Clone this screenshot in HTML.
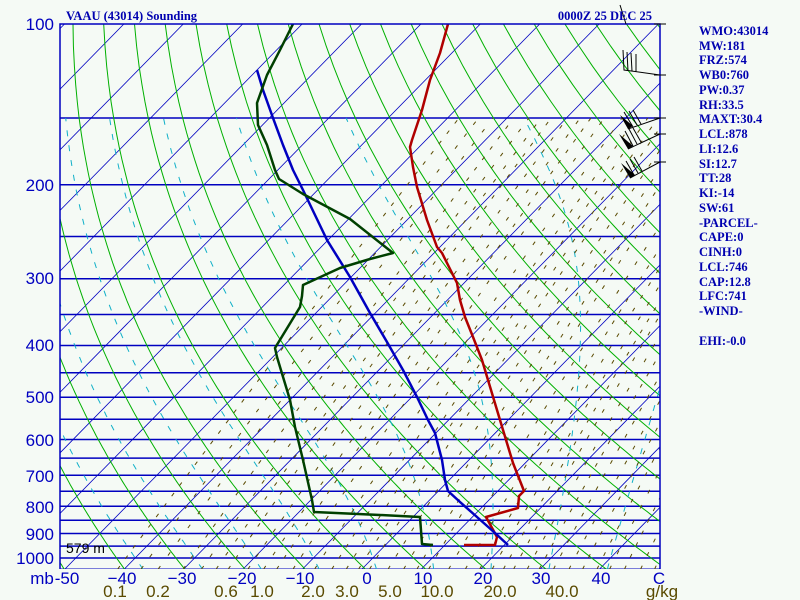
<!DOCTYPE html>
<html><head><meta charset="utf-8">
<style>
body{margin:0;background:#f5faf5;}
svg{display:block;}
.ax{font-family:"Liberation Sans",sans-serif;font-size:17px;fill:#0000c0;}
.br{font-family:"Liberation Sans",sans-serif;font-size:17px;fill:#5a4a00;}
.bt{font-family:"Liberation Serif",serif;font-size:12.5px;font-weight:bold;fill:#0000b0;}
</style></head><body>
<svg id="s" width="800" height="600" xmlns="http://www.w3.org/2000/svg">
<rect width="800" height="600" fill="#f5faf5"/>
<defs><clipPath id="c"><rect x="60" y="24" width="600" height="545"/></clipPath></defs>
<g id="grid" clip-path="url(#c)"></g>
<g clip-path="url(#c)" fill="none" stroke-width="2.5" stroke-linejoin="round">
<polyline stroke="#b00000" points="448,24 440,53 430,80 422,110 412,140 410,147 413,167 417,187 427,220 437,247 442,253 457,283 460,300 465,317 473,337 482,360 491,390 500,420 513,463 524,491 519,496 518,508 486,517 497,537 495,545 464,545"/>
<polyline stroke="#0000c0" points="257,70 263,90 273,118 283,145 293,170 303,190 327,240 350,277 370,313 387,342 403,370 417,397 428,420 435,433 442,460 445,480 448,491 460,502 477,517 495,533 508,545"/>
<polyline stroke="#004000" points="293,24 280,50 267,75 257,103 258,125 267,145 275,170 279,179 303,194 350,219 393,253 370,259 340,268 303,285 302,296 300,307 275,348 277,357 290,400 295,427 303,460 312,500 314,512 380,515 420,517 422,544 433,545"/>
</g>
<g fill="none" stroke="#0000c0" stroke-width="1.5">
<polyline points="60,569 60,24 660,24 660,569"/>
</g>
<g stroke="#000" stroke-width="1" fill="none">
<line x1="654" y1="24" x2="666" y2="24"/><line x1="620" y1="5" x2="626" y2="24"/>
<line x1="654" y1="75" x2="666" y2="75"/>
<polyline points="660,75 624,70 623,50"/><line x1="628" y1="71" x2="627" y2="52"/><line x1="632" y1="71" x2="631" y2="53"/><line x1="636" y1="72" x2="636" y2="54"/>
<line x1="654" y1="118" x2="666" y2="118"/>
<line x1="660" y1="118" x2="628" y2="129"/><line x1="633" y1="127" x2="624" y2="112"/><line x1="637" y1="125" x2="629" y2="111"/><line x1="641" y1="124" x2="633" y2="110"/>
<line x1="654" y1="134" x2="666" y2="134"/>
<line x1="660" y1="134" x2="628" y2="149"/><line x1="633" y1="146" x2="625" y2="131"/><line x1="637" y1="144" x2="629" y2="129"/><line x1="641" y1="142" x2="633" y2="128"/>
<line x1="654" y1="162" x2="666" y2="162"/>
<line x1="660" y1="162" x2="630" y2="178"/><line x1="634" y1="175" x2="626" y2="161"/><line x1="638" y1="173" x2="630" y2="159"/><line x1="642" y1="171" x2="634" y2="157"/>
</g>
<g fill="#000">
<polygon points="628,129 620,115 633,126"/><polygon points="628,149 619,134 633,146"/><polygon points="630,178 621,163 635,175"/>
</g>
<text x="66" y="20" class="bt">VAAU (43014) Sounding</text>
<text x="652" y="20" class="bt" text-anchor="end">0000Z 25 DEC 25</text>
<g class="ax" text-anchor="end">
<text x="54" y="30">100</text><text x="54" y="191">200</text><text x="54" y="284">300</text><text x="54" y="351">400</text><text x="54" y="403">500</text><text x="54" y="446">600</text><text x="54" y="482">700</text><text x="54" y="513">800</text><text x="54" y="540">900</text><text x="54" y="564">1000</text>
</g>
<text x="66" y="553" font-family="Liberation Sans,sans-serif" font-size="14" fill="#000">579 m</text>
<g class="ax" text-anchor="middle">
<text x="42" y="584">mb</text><text x="67" y="584">-50</text><text x="122" y="584">−40</text><text x="182" y="584">−30</text><text x="242" y="584">−20</text><text x="300" y="584">−10</text><text x="367" y="584">0</text><text x="423" y="584">10</text><text x="483" y="584">20</text><text x="541" y="584">30</text><text x="601" y="584">40</text><text x="659" y="584">C</text>
</g>
<g class="br" text-anchor="middle">
<text x="115" y="597">0.1</text><text x="158" y="597">0.2</text><text x="226" y="597">0.6</text><text x="262" y="597">1.0</text><text x="313" y="597">2.0</text><text x="347" y="597">3.0</text><text x="390" y="597">5.0</text><text x="437" y="597">10.0</text><text x="500" y="597">20.0</text><text x="562" y="597">40.0</text><text x="662" y="597">g/kg</text>
</g>
<g class="bt">
<text x="699" y="35">WMO:43014</text><text x="699" y="50">MW:181</text><text x="699" y="64">FRZ:574</text><text x="699" y="79">WB0:760</text><text x="699" y="94">PW:0.37</text><text x="699" y="109">RH:33.5</text><text x="699" y="123">MAXT:30.4</text><text x="699" y="138">LCL:878</text><text x="699" y="153">LI:12.6</text><text x="699" y="168">SI:12.7</text><text x="699" y="182">TT:28</text><text x="699" y="197">KI:-14</text><text x="699" y="212">SW:61</text><text x="699" y="227">-PARCEL-</text><text x="699" y="241">CAPE:0</text><text x="699" y="256">CINH:0</text><text x="699" y="271">LCL:746</text><text x="699" y="286">CAP:12.8</text><text x="699" y="300">LFC:741</text><text x="699" y="315">-WIND-</text><text x="699" y="345">EHI:-0.0</text>
</g>
</svg>
<script>
(function(){
var NS="http://www.w3.org/2000/svg",g=document.getElementById("grid");
function Y(p){return 24+231.9*Math.log(p/100);}
function X(T,y){return 363+5.94*T+0.98*(568-y);}
function pl(pts,col,w,dash){var e=document.createElementNS(NS,"polyline");e.setAttribute("points",pts.map(function(a){return a[0].toFixed(1)+","+a[1].toFixed(1)}).join(" "));e.setAttribute("fill","none");e.setAttribute("stroke",col);e.setAttribute("stroke-width",w);if(dash)e.setAttribute("stroke-dasharray",dash);g.appendChild(e);}
function ln(x1,y1,x2,y2,col,w){pl([[x1,y1],[x2,y2]],col,w);}
for(var p=150;p<=1050;p+=50){var y=Y(p);ln(60,y,660,y,"#0000c0",1.5);}
for(var T=-200;T<=60;T+=10){ln(X(T,569),569,X(T,24),24,"#0000c0",0.8);}
for(var th=200;th<=500;th+=10){var a=[];for(var p=1060;p>=95;p-=10){var Tk=th*Math.pow(p/1000,0.286);var y=Y(p);a.push([X(Tk-273.15,y),y]);}pl(a,"#00b000",1);}
function es(T){return 6.112*Math.exp(17.67*T/(T+243.5));}
function dTdp(T,p){var Tk=T+273.15,e=es(T),rs=0.622*e/(p-e),L=2.5e6,Rd=287,cp=1005;
 return (Rd*Tk+L*rs)/(cp+L*L*rs*0.622/(Rd*Tk*Tk))/p;}
for(var T0=-40;T0<=40;T0+=10){var T=T0,a=[],p=1000;
 var Td=T,pd=1000;while(pd<1050){Td+=dTdp(Td,pd)*5;pd+=5;}
 a.push([X(Td,Y(1050)),Y(1050)]);
 while(p>=150){var y=Y(p);a.push([X(T,y),y]);T-=dTdp(T,p)*5;p-=5;}
 pl(a,"#10b0c8",1,"6,9");}
var ws=[0.1,0.15,0.2,0.3,0.4,0.5,0.6,0.8,1,1.2,1.5,2,2.5,3,3.5,4,5,6,7,8,10,12,14,16,18,20,23,26,30,35,40,46,52,60,70,80];
for(var i=0;i<ws.length;i++){var w=ws[i],a=[];for(var p=1050;p>=150;p-=25){var e=w*p/(622+w),l=Math.log(e/6.112),T=243.5*l/(17.67-l),y=Y(p);a.push([X(T,y),y]);}pl(a,"#5a4a00",1,"4,"+(9+(i%3)*2));}
})();
</script>
</body></html>
